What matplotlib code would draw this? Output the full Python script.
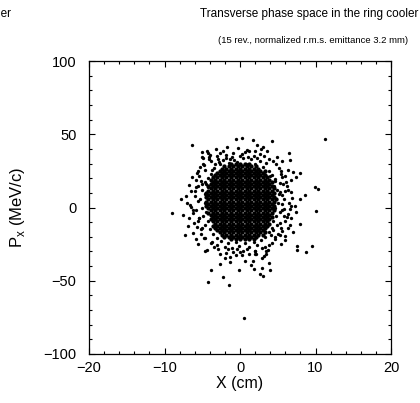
import numpy as np
import matplotlib
matplotlib.use("Agg")
from matplotlib import pyplot as plt
from matplotlib.ticker import MultipleLocator

plt.rcParams['font.family'] = ['Liberation Sans', 'DejaVu Sans']

# Coeur dense du faisceau : une ligne par valeur de Px, avec les positions X (cm)
coeur_p = [29.5, 28, 26.5, 25, 23.5, 22, 20.5, 19, 17.5, 16, 14.5, 13, 11.5, 10, 8.5, 7,
           5.5, 4, 2.5, 1, -0.5, -2, -3.5, -5, -6.5, -8, -9.5, -11, -12.5, -14, -15.5,
           -17, -18.5, -20, -21.5]
coeur_x = [
    [-1.2, -0.6, 0.0, 0.6, 1.2],
    [-2.1, -1.5, -0.9, -0.3, 0.3, 0.9, 1.5, 2.1],
    [-2.4, -1.8, -1.2, -0.6, 0.0, 0.6, 1.2, 1.8, 2.4],
    [-2.7, -2.1, -1.5, -0.9, -0.3, 0.3, 0.9, 1.5, 2.1, 2.7, 3.3],
    [-3.0, -2.4, -1.8, -1.2, -0.6, 0.0, 0.6, 1.2, 1.8, 2.4, 3.0],
    [-3.3, -2.7, -2.1, -1.5, -0.9, -0.3, 0.3, 0.9, 1.5, 2.1, 2.7, 3.3],
    [-3.6, -3.0, -2.4, -1.8, -1.2, -0.6, 0.0, 0.6, 1.2, 1.8, 2.4, 3.0, 3.6],
    [-3.9, -3.3, -2.7, -2.1, -1.5, -0.9, -0.3, 0.3, 0.9, 1.5, 2.1, 2.7, 3.3, 3.9],
    [-3.6, -3.0, -2.4, -1.8, -1.2, -0.6, 0.0, 0.6, 1.2, 1.8, 2.4, 3.0, 3.6, 4.2],
    [-3.9, -3.3, -2.7, -2.1, -1.5, -0.9, -0.3, 0.3, 0.9, 1.5, 2.1, 2.7, 3.3, 3.9],
    [-4.2, -3.6, -3.0, -2.4, -1.8, -1.2, -0.6, 0.0, 0.6, 1.2, 1.8, 2.4, 3.0, 3.6, 4.2],
    [-3.9, -3.3, -2.7, -2.1, -1.5, -0.9, -0.3, 0.3, 0.9, 1.5, 2.1, 2.7, 3.3, 3.9, 4.5],
    [-4.2, -3.6, -3.0, -2.4, -1.8, -1.2, -0.6, 0.0, 0.6, 1.2, 1.8, 2.4, 3.0, 3.6, 4.2],
    [-4.5, -3.9, -3.3, -2.7, -2.1, -1.5, -0.9, -0.3, 0.3, 0.9, 1.5, 2.1, 2.7, 3.3, 3.9, 4.5],
    [-4.2, -3.6, -3.0, -2.4, -1.8, -1.2, -0.6, 0.0, 0.6, 1.2, 1.8, 2.4, 3.0, 3.6, 4.2],
    [-4.5, -3.9, -3.3, -2.7, -2.1, -1.5, -0.9, -0.3, 0.3, 0.9, 1.5, 2.1, 2.7, 3.3, 3.9, 4.5],
    [-4.2, -3.6, -3.0, -2.4, -1.8, -1.2, -0.6, 0.0, 0.6, 1.2, 1.8, 2.4, 3.0, 3.6, 4.2, 4.8],
    [-4.5, -3.9, -3.3, -2.7, -2.1, -1.5, -0.9, -0.3, 0.3, 0.9, 1.5, 2.1, 2.7, 3.3, 3.9, 4.5],
    [-4.2, -3.6, -3.0, -2.4, -1.8, -1.2, -0.6, 0.0, 0.6, 1.2, 1.8, 2.4, 3.0, 3.6, 4.2],
    [-4.5, -3.9, -3.3, -2.7, -2.1, -1.5, -0.9, -0.3, 0.3, 0.9, 1.5, 2.1, 2.7, 3.3, 3.9, 4.5],
    [-4.2, -3.6, -3.0, -2.4, -1.8, -1.2, -0.6, 0.0, 0.6, 1.2, 1.8, 2.4, 3.0, 3.6, 4.2],
    [-3.9, -3.3, -2.7, -2.1, -1.5, -0.9, -0.3, 0.3, 0.9, 1.5, 2.1, 2.7, 3.3, 3.9, 4.5],
    [-4.2, -3.6, -3.0, -2.4, -1.8, -1.2, -0.6, 0.0, 0.6, 1.2, 1.8, 2.4, 3.0, 3.6, 4.2],
    [-3.9, -3.3, -2.7, -2.1, -1.5, -0.9, -0.3, 0.3, 0.9, 1.5, 2.1, 2.7, 3.3, 3.9],
    [-3.6, -3.0, -2.4, -1.8, -1.2, -0.6, 0.0, 0.6, 1.2, 1.8, 2.4, 3.0, 3.6, 4.2],
    [-3.9, -3.3, -2.7, -2.1, -1.5, -0.9, -0.3, 0.3, 0.9, 1.5, 2.1, 2.7, 3.3, 3.9],
    [-3.6, -3.0, -2.4, -1.8, -1.2, -0.6, 0.0, 0.6, 1.2, 1.8, 2.4, 3.0, 3.6],
    [-3.3, -2.7, -2.1, -1.5, -0.9, -0.3, 0.3, 0.9, 1.5, 2.1, 2.7, 3.3, 3.9],
    [-3.6, -3.0, -2.4, -1.8, -1.2, -0.6, 0.0, 0.6, 1.2, 1.8, 2.4, 3.0, 3.6],
    [-3.3, -2.7, -2.1, -1.5, -0.9, -0.3, 0.3, 0.9, 1.5, 2.1, 2.7, 3.3],
    [-3.0, -2.4, -1.8, -1.2, -0.6, 0.0, 0.6, 1.2, 1.8, 2.4, 3.0],
    [-2.7, -2.1, -1.5, -0.9, -0.3, 0.3, 0.9, 1.5, 2.1, 2.7, 3.3],
    [-2.4, -1.8, -1.2, -0.6, 0.0, 0.6, 1.2, 1.8, 2.4, 3.0],
    [-2.1, -1.5, -0.9, -0.3, 0.3, 0.9, 1.5, 2.1],
    [-1.2, -0.6, 0.0, 0.6, 1.2, 1.8],
]

# Particules autour du coeur et particules isolees (X en cm, Px en MeV/c)
halo_x = [-3.4, -2.6, -1.5, -0.4, 0.8, 2.0, 3.0, 3.8, -3.8, 4.2, 1.5, -2.2, 2.6, 3.5,
          -4.3, 4.6, -1.0, 0.4, -4.5, -5.0, -4.6, -5.3, -4.7, -5.1, -4.5, -4.9, -4.3,
          -4.6, -4.0, 4.5, 4.9, 5.2, 4.7, 5.0, 4.6, 5.3, 4.7, 4.4, 4.9, 4.2, 3.9, -3.6,
          -3.1, 3.3, 2.8, -2.5, -1.6, -0.5, 0.7, 1.8, -0.2, 1.2, 2.3, -1.0, -2.0,
          -6.0, -5.8, -6.2, -5.6, 5.8, 6.0, 5.5, 6.2, -5.5, -6.5, 3.8, -3.0, 1.8, -2.2,
          5.2, -5.3, 6.5, -6.8, 5.6, -5.2, 4.2, -3.5, 0.0, 1.2, -2.0,
          -3.9, -2.9, -1.8, -0.9, 0.2, 1.1, 2.3, 3.2, 4.4, -4.9, 5.6, -0.3, 2.2, -1.7,
          3.6, -4.4, -2.6, 4.9,
          5.4, 5.9, 6.7, 5.3, 6.4, 5.6, 6.9, 5.5, 7.4, 5.8, 6.8, 5.3, 6.3, 5.0, 4.6,
          3.8, 5.9, 7.0,
          -5.6, -6.3, -5.2, -6.8, -5.9, -7.2, -5.6, -6.6, -5.8, -7.5, -5.5, -6.9, -5.1,
          -6.2, -4.6, -3.9, -5.6, -7.3,
          -2.9, -1.9, -0.6, 0.9, 2.0, 2.9, -1.3, 0.6, 1.5, -0.2, -2.7, 2.9,
          11.2, 1.76, -0.5, 0.27, 4.24, -6.4, -3.18, -5.0, -4.2, -5.0, -4.07, -3.97,
          3.09, 2.82, 2.03, 1.19, 2.6, 6.45, 6.58, 4.77, 6.36, 7.02, 7.9, 7.46, 6.05,
          5.47, 3.93, 4.6, 5.7, 5.92, 9.9, 10.33, 5.26, 6.8, -5.74, -4.64, -4.73,
          -3.31, -2.74, -3.75, -1.85, -1.28, -0.75, 0.0, 0.66, 0.89, -5.87, -5.52,
          -5.07, -4.64, -4.2, -3.31, -4.86, -4.07,
          8.6, 10.1, 7.9, 6.66, 9.5, 7.5, 7.6, 8.78, 7.9, 6.7, 7.25, 6.58, 5.83, 5.56,
          6.36, 6.26, 5.47, 5.92, 5.26, 4.6, 4.15, 4.37, 5.39, 3.27, 3.71, 1.95,
          -1.36, -3.8, -2.2, -4.2, -1.46, 0.53, 1.68, 2.87, 3.8, 1.81, 4.0, 2.6, 3.09,
          0.26, 2.16, 3.18, 3.44, -4.64, 0.36, 1.95, 3.44,
          -8.97, -7.85, -7.02, -6.23, -6.49, -5.43, -6.13, -5.74, -5.17, -5.87, -4.73,
          -4.41, -3.75, -3.09, -2.65, -1.55, -0.89, -0.44]
halo_p = [27, 29.5, 30.5, 31, 30, 29.5, 27.5, 25, 23, 22, 33, 32.5, 31.5, 30.2,
          20, 18, 34.5, 33.5, 16, 12, 9, 6, 3, 0, -3, -6, -9,
          -12, -15, 15, 12, 9, 6, 3, 0, -3, -6, -9, -12, -14, -17, -18,
          -20.5, -20, -22.5, -23, -24.5, -23.5, -24, -23.5, -26, -27, -25.5, -27.5, -26.8,
          8, 18.5, -4, -9, 5.5, -9, 20.5, 14.5, 21.5, 11, 33, 35.5, 35, 38.5,
          27, 27.5, 3, -7, -16, -18, -24, -27, -30.5, -32, -34.5,
          31.5, 33.2, 35.8, 37.2, 36.5, 34.2, 33.8, 35.2, 31.8, 29.5, 31.5, 40.8, 42.5, 41.5,
          38.8, 38.5, 37.0, 34.8,
          24.8, 21.2, 18.6, 16.8, 12.0, 8.7, 6.6, 2.4, -2.8, -6.0, -7.5, -10.5, -13.8, -18.0,
          -21.8, -25.4, -22.0, -17.0,
          24.8, 21.0, 18.4, 15.5, 11.2, 8.0, 4.6, 1.8, -1.5, -4.8, -7.2, -12.5, -14.2,
          -17.5, -20.6, -24.3, -25.0, -19.0,
          -28.6, -30.8, -32.7, -28.4, -29.8, -27.6, -37.5, -36.4, -39.2, -42.8, -38.5, -41.0,
          46.6, 46.2, 46.8, 47.6, 45.3, 42.8, 40.1, 37.7, 37.1, 34.8, 34.8, 36.0,
          41.6, 40.1, 38.4, 38.4, 36.2, 37.1, 32.6, 29.8, 25.7, 24.4, 23.4, 20.7, 17.7,
          23.0, 21.8, 19.3, 16.2, 11.6, 13.9, 12.8, 10.4, 10.4, 23.4, 25.3, 29.1,
          29.4, 30.9, 25.3, 33.9, 32.8, 32.6, 35.5, 37.7, 39.4, 13.9, 15.0,
          16.2, 17.3, 13.9, 18.4, 33.9, 32.8,
          8.3, -2.5, -11.2, -11.7, -26.0, -26.5, -28.7, -30.2, 5.5, 1.2, 1.2, -1.2, -1.2, -1.8,
          -4.1, -6.3, -14.3, -19.3, -18.9, -20.0, -18.9, -15.5, -24.6, -26.8, -29.1, -31.4,
          -34.1, -42.5, -47.3, -50.7, -52.6, -75.1, -36.7, -34.6, -37.7, -41.8, -42.5, -45.5, -46.6,
          -32.1, -31.6, -32.8, -31.6, -29.4, -29.4, -29.8, -29.6,
          -3.6, 5.5, 3.2, -1.8, 0.5, -7.5, -10.9, -13.2, -15.0, -21.6, -21.0,
          -28.7, -23.4, -25.7, -31.4, -28.0, -30.2, -28.0]

x_coeur = np.concatenate([np.array(row) for row in coeur_x])
p_coeur = np.concatenate([np.full(len(row), p) for row, p in zip(coeur_x, coeur_p)])

fig = plt.figure(figsize=(4.2, 4.03), dpi=100)
ax = fig.add_axes([0.212, 0.1216, 0.719, 0.727])

ax.plot(x_coeur, p_coeur, linestyle="none", marker="o", markersize=3.1, markeredgewidth=0, color="black")
ax.plot(halo_x, halo_p, linestyle="none", marker="o", markersize=2.4, markeredgewidth=0, color="black")

ax.set_xlim(-20, 20)
ax.set_ylim(-100, 100)
ax.xaxis.set_major_locator(MultipleLocator(10))
ax.xaxis.set_minor_locator(MultipleLocator(2))
ax.yaxis.set_major_locator(MultipleLocator(50))
ax.yaxis.set_minor_locator(MultipleLocator(10))
ax.tick_params(which="both", direction="in", top=True, right=True, labelsize=10.5, width=0.8)
ax.tick_params(which="major", length=4.5, pad=5)
ax.tick_params(which="minor", length=2.5)
ax.tick_params(axis="y", pad=9)
for s in ax.spines.values():
    s.set_linewidth(0.9)

ax.set_xlabel("X (cm)", fontsize=11.5, labelpad=1)
ax.set_ylabel("P$_\\mathregular{x}$ (MeV/c)", fontsize=12, labelpad=12)

fig.text(0.736, 0.965, "Transverse phase space in the ring cooler", ha="center", va="center", fontsize=8.5)
fig.text(0.745, 0.900, "(15 rev., normalized r.m.s. emittance 3.2 mm)", ha="center", va="center", fontsize=6.8)
# fin du titre du graphique voisin
fig.text(0.025, 0.965, "ring cooler", ha="right", va="center", fontsize=8.5)

fig.savefig("out.png", dpi=100)
